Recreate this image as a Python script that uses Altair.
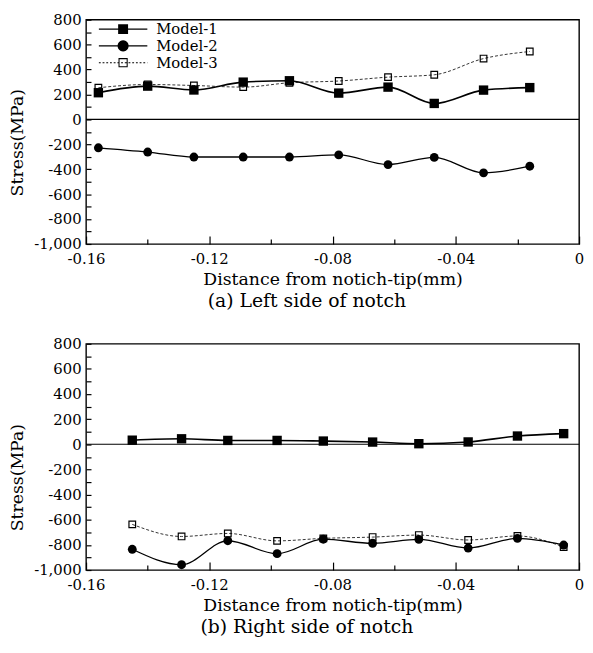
import math
import altair as alt
import pandas as pd

FONT = "DejaVu Serif"
MINUS = "\u2212"

models = ["Model-1", "Model-2", "Model-3"]

# (a) Left side of notch
left_x = [-0.156, -0.140, -0.125, -0.109, -0.094, -0.078, -0.062, -0.047, -0.031, -0.016]
left_m1 = [214, 267, 236, 299, 310, 211, 259, 128, 235, 255]
left_m2 = [-228, -262, -302, -302, -302, -285, -363, -305, -429, -376]
left_m3 = [254, 280, 272, 259, 294, 308, 339, 358, 488, 545]

# (b) Right side of notch
right_x = [-0.145, -0.129, -0.114, -0.098, -0.083, -0.067, -0.052, -0.036, -0.020, -0.005]
right_m1 = [33, 44, 31, 31, 26, 18, 5, 19, 66, 85]
right_m2 = [-835, -958, -767, -870, -755, -787, -756, -825, -748, -801]
right_m3 = [-637, -733, -709, -768, -748, -738, -722, -761, -729, -817]

x_ticks = [-0.16, -0.12, -0.08, -0.04, 0]
x_minor = [-0.14, -0.10, -0.06, -0.02]
y_ticks = [-1000, -800, -600, -400, -200, 0, 200, 400, 600, 800]
y_minor = [-900, -700, -500, -300, -100, 100, 300, 500, 700]

W = 499


def make_df(xs, m1, m2, m3):
    rows = []
    for name, vals in zip(models, [m1, m2, m3]):
        for xv, yv in zip(xs, vals):
            rows.append({"x": xv, "y": yv, "model": name})
    return pd.DataFrame(rows)


# legend symbol paths (unit coordinates, scaled by Vega); everything is a filled area
L = 3.27
T = 0.08  # half thickness of the legend line


def rect(x0, x1, h):
    return f"M{x0:.3f},{-h:.3f}L{x1:.3f},{-h:.3f}L{x1:.3f},{h:.3f}L{x0:.3f},{h:.3f}Z"


def sq(h, ccw=False):
    if ccw:
        return f"M{-h},{-h}L{-h},{h}L{h},{h}L{h},{-h}Z"
    return f"M{-h},{-h}L{h},{-h}L{h},{h}L{-h},{h}Z"


def poly_circle(r, n=24):
    pts = [(r * math.cos(2 * math.pi * k / n), r * math.sin(2 * math.pi * k / n)) for k in range(n)]
    return "M" + "L".join(f"{a:.3f},{b:.3f}" for a, b in pts) + "Z"


p1 = rect(-L, L, T) + sq(0.67)
p2 = rect(-L, L, T) + poly_circle(0.75)
dots = ""
a = -L
while a < L:
    dots += rect(a, min(a + 0.25, L), 0.06)
    a += 0.5
p3 = dots + sq(0.62) + sq(0.48, ccw=True)
legend_paths = [p1, p2, p3]

x_label_expr = f"datum.value == 0 ? '0' : replace(format(datum.value, '.2f'), '{MINUS}', '-')"
y_label_expr = f"replace(format(datum.value, ','), '{MINUS}', '-')"


def panel(df, height, caption, title_y, show_legend):
    xs = alt.Scale(domain=[-0.16, 0], nice=False, zero=False)
    ys = alt.Scale(domain=[-1000, 800], nice=False, zero=False)

    main_x = alt.Axis(values=x_ticks, labelExpr=x_label_expr, ticks=False, domain=False, grid=False,
                      labelPadding=8, labelFontSize=15, labelFlush=False, labelOverlap=False,
                      title="Distance from notich-tip(mm)", titleFontSize=17.5, titlePadding=4)
    main_y = alt.Axis(values=y_ticks, labelExpr=y_label_expr, ticks=False, domain=False, grid=False,
                      labelPadding=5, labelFontSize=15, labelFlush=False, labelOverlap=False,
                      title="Stress(MPa)", titleFontSize=17.5, titlePadding=7, titleY=title_y)

    def tick_x(values, size):
        return alt.Axis(orient="top", offset=-height, values=values, labels=False, domain=False,
                        ticks=True, tickSize=size, tickColor="black", tickWidth=1.2, grid=False,
                        title=None, minExtent=0)

    def tick_y(values, size):
        return alt.Axis(orient="right", offset=-W, values=values, labels=False, domain=False,
                        ticks=True, tickSize=size, tickColor="black", tickWidth=1.2, grid=False,
                        title=None, minExtent=0)

    base = alt.Chart(df)

    zero = alt.Chart(pd.DataFrame({"v": [0]})).mark_rule(color="black", strokeWidth=1.1).encode(
        y=alt.Y("v:Q", scale=ys, axis=None)
    )

    def sel(name):
        return base.transform_filter(alt.datum.model == name)

    line3 = sel("Model-3").mark_line(interpolate="monotone", color="#333333", strokeWidth=1,
                                     strokeDash=[3, 2]).encode(
        x=alt.X("x:Q", scale=xs, axis=None), y=alt.Y("y:Q", scale=ys, axis=None))
    line2 = sel("Model-2").mark_line(interpolate="monotone", color="black", strokeWidth=1.3).encode(
        x=alt.X("x:Q", scale=xs, axis=None), y=alt.Y("y:Q", scale=ys, axis=None))
    line1 = sel("Model-1").mark_line(interpolate="monotone", color="black", strokeWidth=1.6).encode(
        x=alt.X("x:Q", scale=xs, axis=tick_x(x_ticks, 8)), y=alt.Y("y:Q", scale=ys, axis=tick_y(y_ticks, 5)))

    pts3 = sel("Model-3").mark_point(shape="square", filled=False, size=45, color="black",
                                     strokeWidth=1.2, opacity=1).encode(
        x=alt.X("x:Q", scale=xs, axis=None), y=alt.Y("y:Q", scale=ys, axis=None))
    pts2 = sel("Model-2").mark_point(shape="circle", filled=True, size=80, color="black", opacity=1).encode(
        x=alt.X("x:Q", scale=xs, axis=None), y=alt.Y("y:Q", scale=ys, axis=None))
    pts1 = sel("Model-1").mark_point(shape="square", filled=True, size=90, color="black", opacity=1).encode(
        x=alt.X("x:Q", scale=xs, axis=main_x), y=alt.Y("y:Q", scale=ys, axis=main_y))

    if show_legend:
        leg = alt.Legend(title=None, orient="none", legendX=29.5, legendY=1.5, padding=0,
                         symbolSize=225, symbolStrokeWidth=0.5, symbolStrokeColor="black",
                         symbolFillColor="black", symbolOpacity=1, symbolOffset=0,
                         labelFont=FONT, labelFontSize=15, labelColor="black",
                         labelOffset=25.5, rowPadding=1)
    else:
        leg = None
    legend_layer = base.transform_filter(alt.datum.model == "none").mark_point(
        filled=True, color="black").encode(
        x=alt.X("x:Q", scale=xs, axis=tick_x(x_minor, 5)),
        y=alt.Y("y:Q", scale=ys, axis=tick_y(y_minor, 5)),
        shape=alt.Shape("model:N", scale=alt.Scale(domain=models, range=legend_paths), legend=leg),
    )

    return alt.layer(zero, line3, line2, line1, pts3, pts2, pts1, legend_layer).resolve_axis(
        x="independent", y="independent"
    ).properties(
        width=W, height=height,
        title=alt.TitleParams(caption, orient="bottom", anchor="middle", font=FONT, fontSize=19,
                              fontWeight="normal", color="black", offset=4, dx=-26),
    )


top = panel(make_df(left_x, left_m1, left_m2, left_m3), 227, "(a) Left side of notch", 124, True)
bottom = panel(make_df(right_x, right_m1, right_m2, right_m3), 229, "(b) Right side of notch", 135, False)

chart = alt.vconcat(top, bottom, spacing=24).configure(
    padding={"left": 0, "top": 0, "right": 0, "bottom": 0}, background="white"
).configure_view(stroke="black", strokeWidth=1.4).configure_axis(
    labelFont=FONT, titleFont=FONT, labelColor="black", titleColor="black", titleFontWeight="normal"
)

chart.save("out.html", embed_options={"renderer": "svg", "actions": False})
